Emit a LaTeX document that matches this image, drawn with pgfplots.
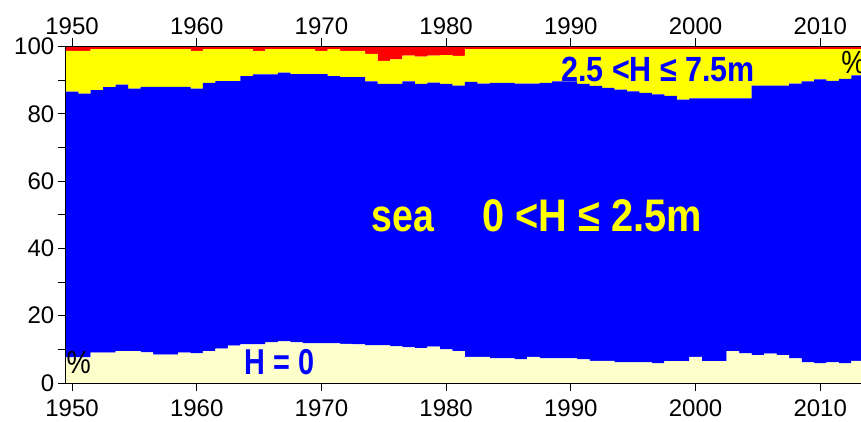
\documentclass[border=0pt]{standalone}
\usepackage{fontspec}
\setmainfont{Liberation Sans}
\usepackage{pgfplots}
\usepackage{pgfplotstable}
\pgfplotsset{compat=1.18}

\definecolor{dryland}{RGB}{255,255,204}
\definecolor{seablue}{RGB}{0,0,255}
\definecolor{midband}{RGB}{255,255,0}
\definecolor{highband}{RGB}{255,0,0}

% Share of each wave-height class per year (percent); the rows add up to 100.
% dry: H = 0, low: 0 < H <= 2.5 m, mid: 2.5 < H <= 7.5 m, high: H > 7.5 m
\pgfplotstableread{
year dry  low  mid  high
1950 7.6  79.0 12.1 1.3
1951 7.6  78.4 12.7 1.3
1952 9.0  78.0 12.2 0.8
1953 9.0  78.9 11.3 0.8
1954 9.5  79.2 10.5 0.8
1955 9.5  78.0 11.7 0.8
1956 9.1  78.9 11.2 0.8
1957 8.4  79.6 11.2 0.8
1958 8.4  79.6 11.2 0.8
1959 9.0  79.0 11.2 0.8
1960 8.8  78.7 11.2 1.3
1961 9.5  79.7 10.0 0.8
1962 10.2 79.5 9.5  0.8
1963 11.1 78.6 9.5  0.8
1964 11.5 79.7 8.0  0.8
1965 11.5 80.2 7.0  1.3
1966 12.1 79.6 7.5  0.8
1967 12.4 79.8 7.0  0.8
1968 12.1 79.7 7.4  0.8
1969 11.8 80.0 7.4  0.8
1970 11.8 80.0 6.9  1.3
1971 11.8 79.4 8.0  0.8
1972 11.6 79.3 7.8  1.3
1973 11.5 79.4 7.8  1.3
1974 11.2 78.4 8.2  2.2
1975 11.2 77.7 6.8  4.3
1976 10.9 78.0 7.3  3.8
1977 10.6 79.0 7.7  2.7
1978 10.4 78.5 8.1  3.0
1979 10.8 78.5 8.0  2.7
1980 10.0 78.9 8.5  2.6
1981 9.5  78.9 8.8  2.8
1982 7.8  81.7 9.7  0.8
1983 7.8  81.2 10.2 0.8
1984 7.3  81.9 10.0 0.8
1985 7.3  81.9 10.0 0.8
1986 7.0  82.0 10.2 0.8
1987 7.8  81.2 10.2 0.8
1988 7.3  81.9 10.0 0.8
1989 7.3  82.3 9.6  0.8
1990 7.3  82.3 9.6  0.8
1991 7.0  81.9 10.3 0.8
1992 6.6  81.7 10.9 0.8
1993 6.6  81.1 11.5 0.8
1994 6.1  81.1 12.0 0.8
1995 6.1  80.6 12.5 0.8
1996 6.1  80.1 13.0 0.8
1997 5.8  80.0 13.4 0.8
1998 6.5  78.8 13.9 0.8
1999 6.5  77.7 15.0 0.8
2000 7.8  76.8 14.6 0.8
2001 6.5  78.1 14.6 0.8
2002 6.5  78.1 14.6 0.8
2003 9.5  75.1 14.6 0.8
2004 8.8  75.8 14.6 0.8
2005 8.3  80.1 10.8 0.8
2006 8.7  79.7 10.8 0.8
2007 8.3  80.1 10.8 0.8
2008 7.3  81.7 10.2 0.8
2009 6.1  83.5 9.6  0.8
2010 5.8  84.4 9.0  0.8
2011 6.1  83.7 9.4  0.8
2012 5.8  84.6 8.8  0.8
2013 6.6  84.8 7.8  0.8
2014 6.6  84.8 7.8  0.8
}\shares
% (the 2014 row only closes the last yearly step)

\pgfplotsset{
  frame/.style={
    scale only axis, width=795.2bp, height=336.5bp,
    xmin=1949.5, xmax=2013.27, ymin=0, ymax=100,
    tick align=outside,
    major tick length=8bp, minor tick length=8bp,
    xtick={1950,1960,...,2010},
    x tick label style={/pgf/number format/1000 sep={}},
    tick label style={font=\fontsize{24bp}{24bp}\selectfont},
    /pgf/number format/assume math mode=true,
    axis line style={black, line width=1bp},
    tick style={black, line width=1bp},
  },
  band/.style={const plot mark left, fill=#1, draw=none},
}

\begin{document}
\begin{tikzpicture}
% stacked yearly shares, with the bottom and left axis lines
\begin{axis}[
  frame,
  axis x line*=bottom, axis y line*=left,
  ytick={0,20,...,100}, minor ytick={10,30,...,90},
  xticklabel style={yshift=-5bp},
  stack plots=y,
  axis on top,
]
\addplot[band=dryland]  table[x expr=\thisrow{year}-0.5, y=dry]  {\shares} \closedcycle;
\addplot[band=seablue]  table[x expr=\thisrow{year}-0.5, y=low]  {\shares} \closedcycle;
\addplot[band=midband]  table[x expr=\thisrow{year}-0.5, y=mid]  {\shares} \closedcycle;
\addplot[band=highband] table[x expr=\thisrow{year}-0.5, y=high] {\shares} \closedcycle;
\end{axis}
% top axis line with its year labels, and the class names
\begin{axis}[
  frame,
  axis x line*=top, axis y line=none,
  xticklabel pos=upper,
  ytick=\empty,
  clip=false,
]
\node[anchor=base, text=midband, font=\bfseries\fontsize{45.7bp}{46bp}\selectfont]
  at (axis cs:1976.54,44.96) {\scalebox{0.82}[1]{sea}};
\node[anchor=base, text=midband, font=\bfseries\fontsize{45.7bp}{46bp}\selectfont]
  at (axis cs:1991.70,44.96) {\scalebox{0.87}[1]{0 <H ≤ 2.5m}};
\node[anchor=base, text=seablue, font=\bfseries\fontsize{35bp}{35bp}\selectfont]
  at (axis cs:1997.0,89.54) {\scalebox{0.87}[1]{2.5 <H ≤ 7.5m}};
\node[anchor=base, text=seablue, font=\bfseries\fontsize{36bp}{36bp}\selectfont]
  at (axis cs:1966.66,2.59) {\scalebox{0.80}[1]{H = 0}};
\node[anchor=base, inner sep=0pt, font=\fontsize{32bp}{32bp}\selectfont]
  at (axis cs:1950.54,2.88) {\scalebox{0.85}[1]{\%}};
\node[anchor=base west, inner sep=0pt, font=\fontsize{32bp}{32bp}\selectfont]
  at (axis cs:2011.67,91.83) {\scalebox{0.85}[1]{\%}};
\end{axis}
\pgfresetboundingbox
\path[use as bounding box] (-65.8bp,-39bp) rectangle (795.2bp,383bp);
\end{tikzpicture}
\end{document}
